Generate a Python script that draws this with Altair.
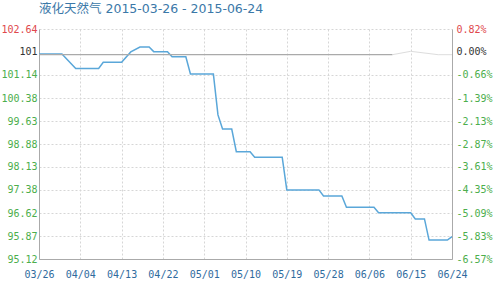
import altair as alt
import pandas as pd

# ---- data ----
dates = ["2015-03-26", "2015-03-31", "2015-04-03", "2015-04-08", "2015-04-09", "2015-04-13",
         "2015-04-15", "2015-04-17", "2015-04-19", "2015-04-20", "2015-04-23", "2015-04-24",
         "2015-04-27", "2015-04-28", "2015-05-03", "2015-05-04", "2015-05-05", "2015-05-07",
         "2015-05-08", "2015-05-11", "2015-05-12", "2015-05-18", "2015-05-19", "2015-05-26",
         "2015-05-27", "2015-05-31", "2015-06-01", "2015-06-07", "2015-06-08", "2015-06-15",
         "2015-06-16", "2015-06-18", "2015-06-19", "2015-06-23", "2015-06-24"]
prices = [101.82, 101.82, 101.35, 101.35, 101.55, 101.55,
          101.89, 102.05, 102.05, 101.90, 101.90, 101.73,
          101.73, 101.17, 101.17, 99.83, 99.37, 99.37,
          98.63, 98.63, 98.45, 98.45, 97.38, 97.38,
          97.18, 97.18, 96.81, 96.81, 96.63, 96.63,
          96.43, 96.43, 95.74, 95.74, 95.85]

ref_dates = ["2015-06-11", "2015-06-15", "2015-06-21", "2015-06-24"]
ref_values = [101.80, 101.91, 101.80, 101.80]

base_value = 101.80
base_start = "2015-03-26"
base_end = "2015-06-11"

left_ticks = [102.64, 101.89, 101.14, 100.38, 99.63, 98.88, 98.13, 97.38, 96.62, 95.87, 95.12]
left_labels = ["102.64", "101", "101.14", "100.38", "99.63", "98.88", "98.13", "97.38",
               "96.62", "95.87", "95.12"]
right_labels = ["0.82%", "0.00%", "-0.66%", "-1.39%", "-2.13%", "-2.87%", "-3.61%",
                "-4.35%", "-5.09%", "-5.83%", "-6.57%"]
x_ticks = ["2015-03-26", "2015-04-04", "2015-04-13", "2015-04-22", "2015-05-01", "2015-05-10",
           "2015-05-19", "2015-05-28", "2015-06-06", "2015-06-15", "2015-06-24"]

title_text = "液化天然气 2015-03-26 - 2015-06-24"

# ---- styling ----
RED = "#e0474c"
BLACK = "#333333"
GREEN = "#4cae4c"
XBLUE = "#2f6b9e"
LINE = "#5aa7d9"
FONT = "DejaVu Sans Mono"

df = pd.DataFrame({"date": dates, "price": prices})
ref_df = pd.DataFrame({"date": ref_dates, "price": ref_values})
base_df = pd.DataFrame({"start": [base_start], "end": [base_end], "v": [base_value]})


def dt(s):
    y, m, d = s.split("-")
    return alt.DateTime(year=int(y), month=int(m), date=int(d), utc=True)


x_domain = [dt(x_ticks[0]), dt(x_ticks[-1])]
y_domain = [left_ticks[-1], left_ticks[0]]

ticks_js = "[" + ",".join(str(v) for v in left_ticks) + "]"
left_js = "[" + ",".join("'" + s + "'" for s in left_labels) + "]"
right_js = "[" + ",".join("'" + s + "'" for s in right_labels) + "]"

label_color = {
    "condition": [
        {"test": "datum.value > 102.5", "value": RED},
        {"test": "abs(datum.value - 101.89) < 0.01", "value": BLACK},
    ],
    "value": GREEN,
}

x_scale = alt.Scale(type="utc", domain=x_domain, nice=False)
x_axis = alt.Axis(
    values=[dt(s) for s in x_ticks],
    labelExpr="utcFormat(datum.value, '%m/%d')",
    title=None,
    labelColor=XBLUE,
    labelFont=FONT,
    labelFontSize=10,
    labelPadding=10,
    labelOverlap=False,
    tickSize=0,
    domainColor="#aaaaaa",
    gridColor="#d6d6d6",
    gridDash=[2, 2],
    labelFlush=False,
)

y_left = alt.Y(
    "price:Q",
    scale=alt.Scale(domain=y_domain, nice=False, zero=False),
    axis=alt.Axis(
        values=left_ticks,
        labelExpr=left_js + "[indexof(" + ticks_js + ", datum.value)]",
        title=None,
        labelColor=label_color,
        labelFont=FONT,
        labelFontSize=10,
        labelPadding=2,
        labelOverlap=False,
        tickSize=0,
        domainColor="#aaaaaa",
        gridColor="#d6d6d6",
        gridDash=[2, 2],
        gridOpacity={"condition": {"test": "abs(datum.value - 101.89) < 0.01", "value": 0},
                     "value": 1},
        labelFlush=False,
    ),
)

line = alt.Chart(df).mark_line(color=LINE, strokeWidth=1.5).encode(
    x=alt.X("date:T", scale=x_scale, axis=x_axis),
    y=y_left,
)

ref_line = alt.Chart(ref_df).mark_line(color="#dddddd", strokeWidth=1).encode(
    x=alt.X("date:T", scale=x_scale, axis=x_axis),
    y=y_left,
)

left_layer = alt.layer(ref_line, line)

base_rule = alt.Chart(base_df).mark_rule(color="#aaaaaa", strokeWidth=1.2).encode(
    x=alt.X("start:T", scale=x_scale, axis=x_axis),
    x2="end:T",
    y=alt.Y(
        "v:Q",
        scale=alt.Scale(domain=y_domain, nice=False, zero=False),
        axis=alt.Axis(
            orient="right",
            values=left_ticks,
            labelExpr=right_js + "[indexof(" + ticks_js + ", datum.value)]",
            title=None,
            labelColor=label_color,
            labelFont=FONT,
            labelFontSize=10,
            labelPadding=4,
            labelOverlap=False,
            tickSize=0,
            domainColor="#aaaaaa",
            grid=False,
            labelFlush=False,
        ),
    ),
)

chart = (
    alt.layer(left_layer, base_rule)
    .resolve_scale(y="independent")
    .resolve_axis(y="independent")
    .properties(
        width=413,
        height=230,
        autosize="none",
        padding={"left": 39, "top": 29, "right": 48, "bottom": 29},
        title=alt.TitleParams(
            text=title_text,
            anchor="start",
            frame="group",
            color="#3b78a8",
            fontSize=12.5,
            font="DejaVu Sans, Noto Sans CJK SC",
            fontWeight="normal",
            offset=9,
        ),
        background="white",
    )
    .configure_view(stroke=None)
)

chart.save("out.html", embed_options={"renderer": "svg", "actions": False})
